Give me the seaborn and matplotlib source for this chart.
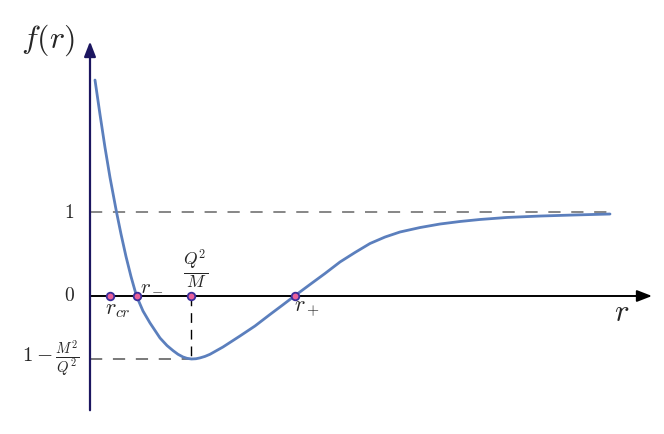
import numpy as np
import pandas as pd
import matplotlib
matplotlib.use("Agg")
import matplotlib.pyplot as plt
import seaborn as sns

# curve f(r)
r_vals = [0.05, 0.10, 0.15, 0.20, 0.265, 0.31, 0.36, 0.41, 0.465, 0.53,
          0.60, 0.70, 0.77, 0.83, 0.88, 0.93, 0.97, 1.015, 1.06, 1.10,
          1.15, 1.20, 1.33, 1.50, 1.65, 1.80, 1.92, 2.045, 2.20, 2.35,
          2.50, 2.65, 2.80, 2.95, 3.10, 3.30, 3.50, 3.70, 3.90, 4.17,
          4.50, 4.83, 5.20]
f_vals = [2.571, 2.161, 1.768, 1.411, 1.000, 0.738, 0.470, 0.232, 0.000, -0.179,
          -0.321, -0.500, -0.590, -0.650, -0.694, -0.726, -0.742, -0.750, -0.747, -0.737,
          -0.719, -0.694, -0.607, -0.476, -0.357, -0.220, -0.113, 0.000, 0.137, 0.268,
          0.405, 0.518, 0.625, 0.702, 0.762, 0.815, 0.857, 0.887, 0.911, 0.935,
          0.952, 0.964, 0.976]

# marked points on the r axis: r_cr, r_-, Q^2/M, r_+
point_r = [0.20, 0.465, 1.015, 2.045]
point_f = [0, 0, 0, 0]
f_min = -0.75
r_end = 5.2

curve = pd.DataFrame({"r": r_vals, "f": f_vals})
points = pd.DataFrame({"r": point_r, "f": point_f})

sns.set_style("white")
plt.rcParams["mathtext.fontset"] = "cm"

fig = plt.figure(figsize=(6.64, 4.34), dpi=100)
ax = fig.add_axes([0, 0, 1, 1])
ax.set_xlim(-0.9, 5.74)
ax.set_ylim(-1.643, 3.524)
ax.axis("off")

# guide lines
ax.plot([0, r_end], [1, 1], color="#666666", lw=1.1, dashes=(8, 7), zorder=1)
ax.plot([0, point_r[2]], [f_min, f_min], color="#555555", lw=1.1, dashes=(8, 7), zorder=1)
ax.plot([point_r[2], point_r[2]], [0, f_min], color="black", lw=1.0, dashes=(7, 5), zorder=1)

# axes with arrows
ax.annotate("", xy=(5.62, 0), xytext=(0, 0),
            arrowprops=dict(arrowstyle="-|>,head_length=0.9,head_width=0.35",
                            color="black", lw=1.4, shrinkA=0, shrinkB=0), zorder=2)
ax.annotate("", xy=(0, 3.03), xytext=(0, -1.36),
            arrowprops=dict(arrowstyle="-|>,head_length=0.9,head_width=0.35",
                            color="#1c1660", lw=1.6, shrinkA=0, shrinkB=0), zorder=2)

line_ax = sns.lineplot(data=curve, x="r", y="f", color="#5b7fbd", linewidth=2.0,
                       sort=False, ax=ax, zorder=3)
line_ax.lines[-1].set_solid_joinstyle("round")
sns.scatterplot(data=points, x="r", y="f", color="#e8609a", edgecolor="#3a2e9a",
                linewidth=1.3, s=30, ax=ax, zorder=4)

# labels
ax.text(-0.42, 3.05, r"$f(r)$", fontsize=23, ha="center", va="center")
ax.text(5.32, -0.2, r"$r$", fontsize=22, ha="center", va="center")
ax.text(-0.21, 1, r"$1$", fontsize=14, ha="center", va="center")
ax.text(-0.21, 0, r"$0$", fontsize=14, ha="center", va="center")
ax.text(-0.39, f_min, r"$1-\frac{M^2}{Q^2}$", fontsize=15, ha="center", va="center")
ax.text(0.28, -0.17, r"$r_{cr}$", fontsize=16, ha="center", va="center")
ax.text(0.62, 0.13, r"$r_-$", fontsize=15, ha="center", va="center")
ax.text(1.06, 0.32, r"$\frac{Q^2}{M}$", fontsize=18, ha="center", va="center")
ax.text(2.17, -0.17, r"$r_+$", fontsize=16, ha="center", va="center")

fig.savefig("out.png", dpi=100)
